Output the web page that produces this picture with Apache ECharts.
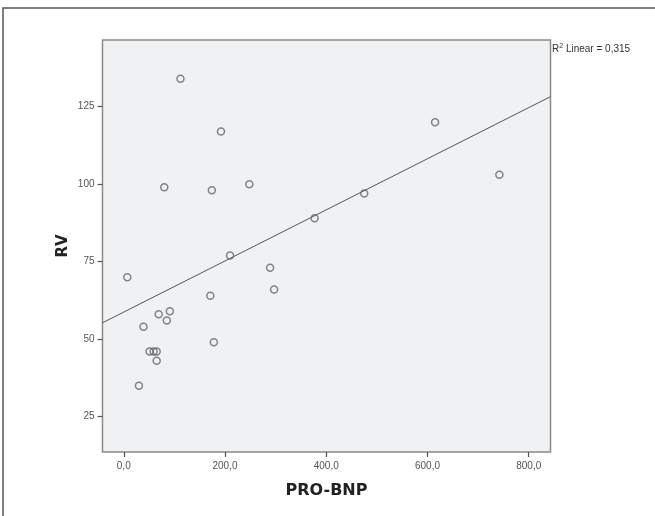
<!DOCTYPE html>
<html>
<head>
<meta charset="utf-8">
<script src="https://cdn.jsdelivr.net/npm/echarts@6/dist/echarts.min.js"></script>
<style>
  html, body { margin: 0; padding: 0; background: #fff; }
  #chart { width: 655px; height: 516px; }
</style>
</head>
<body>
<div id="chart"></div>
<script>
// PRO-BNP vs RV, one point per patient
const proBnp = [112, 192, 80, 174, 248, 377, 615, 742, 475, 7, 210, 289, 297, 171, 178, 69, 91, 85, 39, 51, 59, 65, 65, 30];
const rv     = [134, 117, 99, 98, 100, 89, 120, 103, 97, 70, 77, 73, 66, 64, 49, 58, 59, 56, 54, 46, 46, 46, 43, 35];

const xTicks = [0, 200, 400, 600, 800];
const yTicks = [25, 50, 75, 100, 125];
const xRange = [-42, 843];
const yRange = [13.6, 146.5];
const r2Text = '0,315';

// least-squares fit line
function fit(xs, ys) {
  const n = xs.length;
  const mx = xs.reduce((a, b) => a + b, 0) / n;
  const my = ys.reduce((a, b) => a + b, 0) / n;
  let sxy = 0, sxx = 0;
  for (let i = 0; i < n; i++) {
    sxy += (xs[i] - mx) * (ys[i] - my);
    sxx += (xs[i] - mx) * (xs[i] - mx);
  }
  const slope = sxy / sxx;
  return { slope, intercept: my - slope * mx };
}
const lf = fit(proBnp, rv);
const fitLine = xRange.map(x => [x, lf.intercept + lf.slope * x]);

const points = proBnp.map((x, i) => [x, rv[i]]);
const fmtComma = v => v.toFixed(1).replace('.', ',');

const chart = echarts.init(document.getElementById('chart'), null, { renderer: 'canvas' });
chart.setOption({
  animation: false,
  backgroundColor: '#ffffff',
  grid: {
    left: 102.5, top: 40, right: 104.5, bottom: 64,
    show: true, backgroundColor: '#f0f1f3', borderColor: '#8a8a8a', borderWidth: 1.5
  },
  xAxis: {
    type: 'value', min: xRange[0], max: xRange[1],
    splitLine: { show: false },
    axisLine: { show: false, onZero: false },
    axisTick: { show: true, inside: false, length: 5, customValues: xTicks, lineStyle: { color: '#555', width: 1.2 } },
    axisLabel: { customValues: xTicks, formatter: fmtComma, color: '#555', fontFamily: 'Liberation Sans', fontSize: 10, margin: 9 },
    name: 'PRO-BNP', nameLocation: 'middle', nameGap: 31,
    nameTextStyle: { fontFamily: 'DejaVu Sans', fontWeight: 'bold', fontSize: 16, color: '#222' }
  },
  yAxis: {
    type: 'value', min: yRange[0], max: yRange[1],
    splitLine: { show: false },
    axisLine: { show: false, onZero: false },
    axisTick: { show: true, inside: false, length: 5, customValues: yTicks, lineStyle: { color: '#555', width: 1.2 } },
    axisLabel: { customValues: yTicks, color: '#555', fontFamily: 'Liberation Sans', fontSize: 10, margin: 8 }
  },
  series: [
    {
      type: 'line', data: fitLine, symbol: 'none', clip: true,
      lineStyle: { color: '#555', width: 1 }, z: 2
    },
    {
      type: 'scatter', data: points, symbol: 'circle', symbolSize: 7,
      itemStyle: { color: 'rgba(0,0,0,0)', borderColor: '#666', borderWidth: 1.5 }, z: 3
    }
  ],
  graphic: [
    {
      type: 'rect', shape: { x: 3, y: 8, width: 800, height: 700 },
      style: { fill: null, stroke: '#555', lineWidth: 1.5 }, silent: true
    },
    {
      // y-axis title, rotated to read bottom-to-top
      type: 'text', x: 63, y: 246, rotation: Math.PI / 2,
      style: {
        text: 'RV', fontFamily: 'DejaVu Sans', fontWeight: 'bold', fontSize: 15, fill: '#222',
        align: 'center', verticalAlign: 'middle'
      }
    },
    {
      type: 'text', left: 552, top: 43,
      style: {
        text: '{a|R}{s|2}{a| Linear = ' + r2Text + '}',
        rich: {
          a: { fontFamily: 'Liberation Sans', fontSize: 10, fill: '#333' },
          s: { fontFamily: 'Liberation Sans', fontSize: 7, fill: '#333', verticalAlign: 'top', padding: [0, 0, 5, 0] }
        }
      }
    }
  ]
});
</script>
</body>
</html>
